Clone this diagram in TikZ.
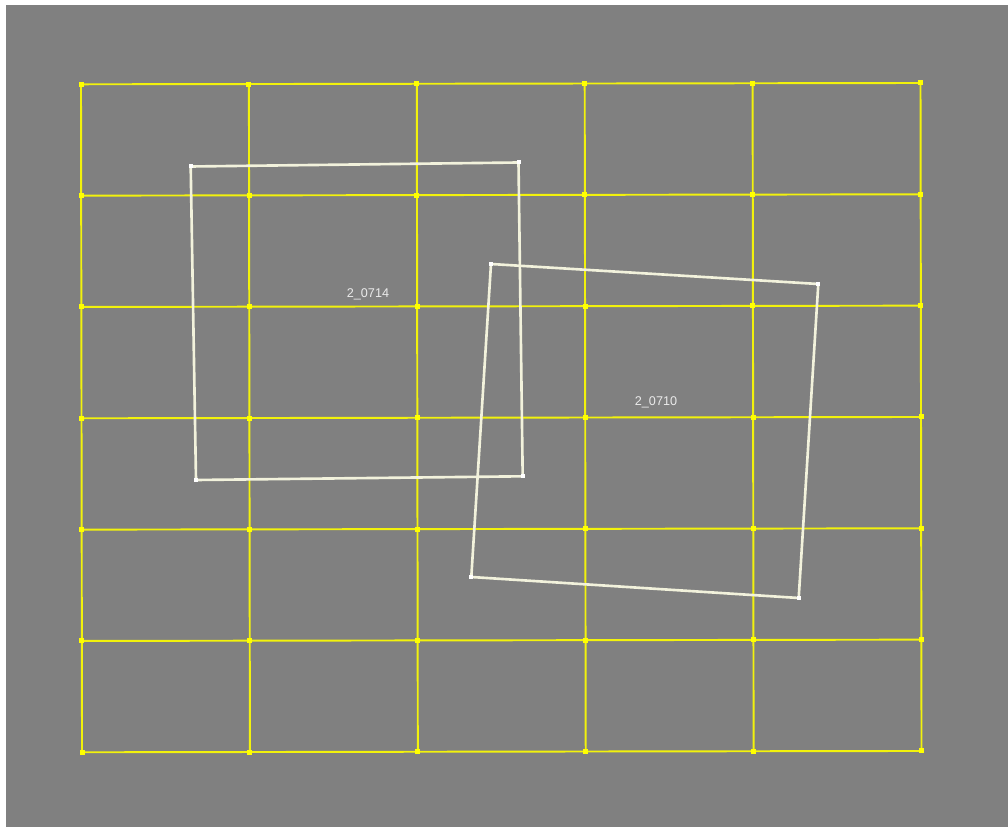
\documentclass[tikz,border=0pt]{standalone}
\usepackage{fontspec}
\setsansfont{Liberation Sans}
\usetikzlibrary{calc}
\definecolor{bgcolor}{HTML}{808080}
\definecolor{gridcolor}{HTML}{FFFF00}
\definecolor{framecolor}{HTML}{F2F2DC}
\definecolor{labelcolor}{HTML}{EBEBEB}

\begin{document}
\begin{tikzpicture}[
    x=0.02cm, y=-0.02cm,
    every node/.style={font=\sffamily},
    lab/.style={font=\sffamily\fontsize{7.2}{8}\selectfont, text=labelcolor, inner sep=0pt},
    gridline/.style={gridcolor, line width=1.1pt, opacity=0.9},
    gridpt/.style={fill=gridcolor},
    frameline/.style={framecolor, line width=1.5pt, line join=miter},
    framept/.style={fill=white},
]
\def\GX#1#2{81 + #1*167.9 + #2*0.17}
\def\GY#1#2{84.3 + #2*111.33 - #1*0.26}

% page with a thin white margin
\useasboundingbox (0, 0) rectangle (1008, 827);
\fill[bgcolor] (6, 5) rectangle (1008, 827);

% the yellow grid, 5 x 6 cells
\foreach \i in {0,...,5}{
    \foreach \j in {0,...,6}{
        \coordinate (g-\i-\j) at ({\GX{\i}{\j}}, {\GY{\i}{\j}});
    }
}
\foreach \i in {0,...,5}{
    \draw[gridline] (g-\i-0) -- (g-\i-6);
}
\foreach \j in {0,...,6}{
    \draw[gridline] (g-0-\j) -- (g-5-\j);
}
\foreach \i in {0,...,5}{
    \foreach \j in {0,...,6}{
        \fill[gridpt] ($(g-\i-\j)+(-2.5,-2.5)$) rectangle ($(g-\i-\j)+(2.5,2.5)$);
    }
}

% first frame
\coordinate (a1) at (190.7, 166.5);
\coordinate (a2) at (518.5, 162.5);
\coordinate (a3) at (522.7, 476.3);
\coordinate (a4) at (196.0, 480.0);
\draw[frameline] (a1) -- (a2) -- (a3) -- (a4) -- cycle;
\node[lab] (l0714) at (368, 294) {2\_0714};

% second frame
\coordinate (b1) at (491.0, 264.0);
\coordinate (b2) at (818.3, 284.0);
\coordinate (b3) at (798.7, 598.0);
\coordinate (b4) at (471.3, 577.0);
\draw[frameline] (b1) -- (b2) -- (b3) -- (b4) -- cycle;
\node[lab] (l0710) at (656, 402.5) {2\_0710};

\foreach \c in {a1, a2, a3, a4, b1, b2, b3, b4}{
    \fill[framept] ($(\c)+(-2,-2)$) rectangle ($(\c)+(2,2)$);
}

\end{tikzpicture}
\end{document}
